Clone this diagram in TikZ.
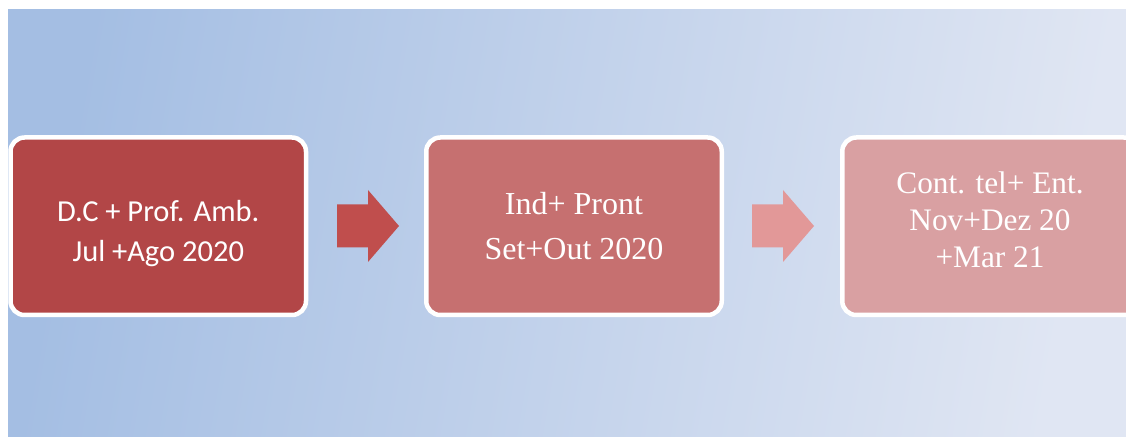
\documentclass[tikz,border=0pt]{standalone}
\usepackage{fontspec}
\setmainfont{Liberation Serif}
\newfontfamily\calfont{Carlito}
\usetikzlibrary{positioning,calc}
\definecolor{bgleft} {RGB}{164,190,227}
\definecolor{bgright}{RGB}{224,230,243}
\definecolor{stepA}  {RGB}{178,70,71}
\definecolor{stepB}  {RGB}{198,112,112}
\definecolor{stepC}  {RGB}{217,160,162}
\definecolor{arrA}   {RGB}{192,78,77}
\definecolor{arrB}   {RGB}{226,152,152}

\begin{document}
\begin{tikzpicture}[x=1pt,y=1pt,
  stepbox/.style={rectangle,rounded corners=14pt,draw=white,line width=4.5pt,
                  fill=#1,minimum width=295.5pt,minimum height=177.5pt},
  steptext/.style={text=white,align=center,inner sep=0pt},
  blockarr/.style={fill=#1}
]
\useasboundingbox (0,0) rectangle (1126,436);
\shade[left color=bgleft,right color=bgright,shading angle=80] (8,0) rectangle (1126,426);
\clip (8,0) rectangle (1126,426);

% the three steps
\node[stepbox=stepA] (s1) at (158.25,209.75) {};
\node[stepbox=stepB] (s2) at (574,209.75) {};
\node[stepbox=stepC] (s3) at (990,209.75) {};

\node[steptext,font=\calfont\fontsize{30.5}{40}\selectfont] (t1) at ([yshift=-7pt]s1.center)
  {D.C + Prof. Amb.\\Jul +Ago 2020};
\node[steptext,font=\fontsize{32}{45}\selectfont] (t2) at (s2.center)
  {Ind+ Pront\\Set+Out 2020};
\node[steptext,font=\fontsize{31.3}{37}\selectfont] (t3) at ([yshift=6pt]s3.center)
  {Cont. tel+ Ent.\\Nov+Dez 20\\+Mar 21};

% block arrows between them
\coordinate (a1) at (337,210);
\coordinate (a2) at (752,210);
\foreach \c/\col in {a1/arrA,a2/arrB}
  \fill[blockarr=\col] (\c) ++(0,21.5) -- ++(31,0) -- ++(0,14.5) -- ++(31,-36)
    -- ++(-31,-36) -- ++(0,14.5) -- ++(-31,0) -- cycle;
\end{tikzpicture}
\end{document}
